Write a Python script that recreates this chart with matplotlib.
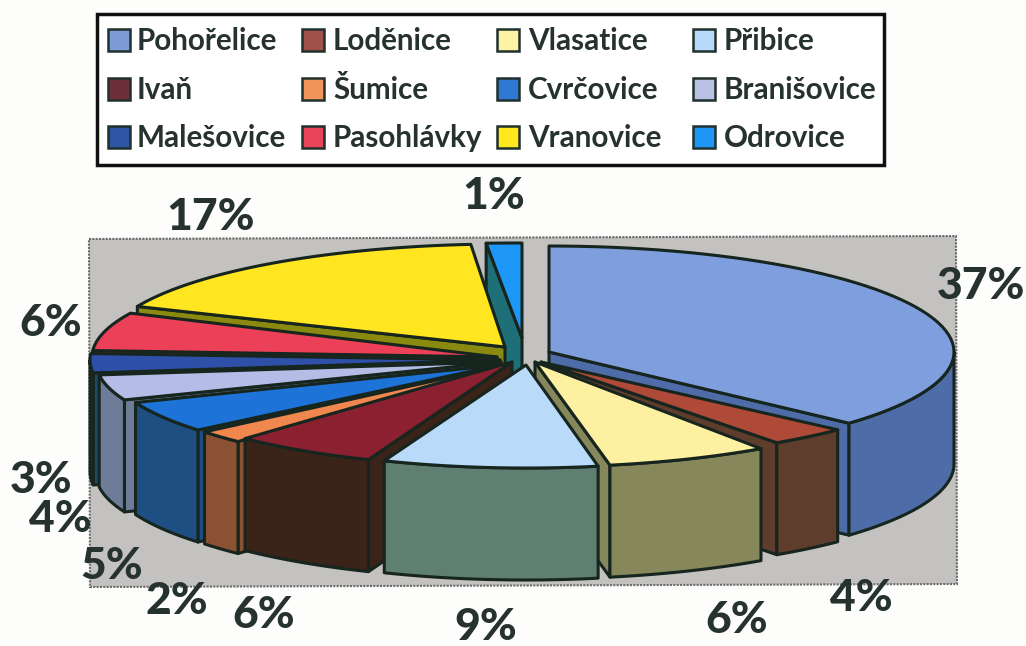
import matplotlib.pyplot as plt
import numpy as np
from matplotlib.patches import Polygon, Rectangle

# Hodnoty z grafu
obce = ["Pohořelice", "Loděnice", "Vlasatice", "Přibice",
        "Ivaň", "Šumice", "Cvrčovice", "Branišovice",
        "Malešovice", "Pasohlávky", "Vranovice", "Odrovice"]
podil = [37, 4, 6, 9, 6, 2, 5, 4, 3, 6, 17, 1]

# Barvy: horní plocha a bok výseče
barva_top = ["#7f9edd", "#b04a38", "#fdf0a0", "#b9daf8", "#8a2030", "#f0874e",
             "#1d73d8", "#b5bde6", "#2f50a8", "#ec4058", "#ffe620", "#1e98f8"]
barva_bok = ["#4e6da8", "#5e3d2c", "#86875a", "#5f7f72", "#3a2318", "#8a5233",
             "#1f4f82", "#6f7c97", "#1d4a66", "#8a2a3a", "#8a8a10", "#1f6f78"]
barva_leg = ["#7d9bd6", "#a0524a", "#fdf3a6", "#b8dafa", "#6e3038", "#f0955a",
             "#2f79d2", "#b8c0e4", "#2c55a5", "#e8445a", "#ffe81e", "#1e96f5"]

# Rozložení v pixelech: střed a poloosy každé výseče
stred_x = [549, 541, 535, 526, 512, 505, 500, 501, 500, 497, 505, 522]
stred_y = [352, 362, 362, 365, 362, 365, 365, 362, 360, 357, 347, 338]
osa_a = [405, 407, 400, 385, 390, 390, 392, 405, 410, 405, 400, 571]
osa_b = [106, 99, 105, 103, 105, 105, 102, 103, 103, 103, 103, 95]
# Oprava perspektivy: posun začátku a konce výseče ve stupních
oprava_zac = [0, 0, -2, 0, 0, 0, 0, 0, 0, 0, -2, 0]
oprava_kon = [-1, -3, 0, 0, 0, 0, 0, 0, 0, 0, -1.3, 0]
hloubka = 112
poradi = [11, 10, 0, 9, 8, 7, 6, 5, 4, 1, 2, 3]

# Popisky procent: střed textu v pixelech
pop_x = [981, 861, 737, 486, 264, 177, 112, 60, 41, 51, 211, 494]
pop_y = [286, 598, 620, 627, 615, 601, 566, 519, 480, 323, 217, 196]

tmava = "#17251f"
text_barva = "#26322f"

fig = plt.figure(figsize=(10.26, 6.46), dpi=100, facecolor="#fdfdfc")
ax = fig.add_axes([0, 0, 1, 1])
ax.set_xlim(0, 1026)
ax.set_ylim(646, 0)
ax.axis("off")

# Šedá plocha za grafem
ax.add_patch(Polygon([(89, 239), (956, 236), (957, 584), (90, 587)], closed=True,
                     facecolor="#c3c2c0", edgecolor="#6a6a6a", lw=1.5, ls=(0, (1, 0.6))))

# Úhly výsečí, po směru hodinových ručiček od vrcholu
kumul = np.cumsum([0] + podil) / sum(podil) * 360


def bod(i, uhel):
    t = np.radians(uhel)
    return stred_x[i] + osa_a[i] * np.sin(t), stred_y[i] - osa_b[i] * np.cos(t)


for i in poradi:
    u0, u1 = kumul[i] + oprava_zac[i], kumul[i + 1] + oprava_kon[i]
    cx, cy = stred_x[i], stred_y[i]
    uhly = np.linspace(u0, u1, 60)
    xs, ys = bod(i, uhly)

    # řezné stěny, jen ty otočené k divákovi
    steny = []
    if u0 > 180:
        steny.append((xs[0], ys[0]))
    if u1 < 180:
        steny.append((xs[-1], ys[-1]))
    for x, y in steny:
        stena = [(cx, cy), (x, y), (x, y + hloubka), (cx, cy + hloubka)]
        ax.add_patch(Polygon(stena, closed=True, facecolor=barva_bok[i],
                             edgecolor=tmava, lw=2.2, joinstyle="round"))

    # vnější plášť, jen přední polovina elipsy
    u_a, u_b = max(u0, 90), min(u1, 270)
    if u_a < u_b:
        px, py = bod(i, np.linspace(u_a, u_b, 60))
        plast = np.r_[np.c_[px, py], np.c_[px, py + hloubka][::-1]]
        ax.add_patch(Polygon(plast, closed=True, facecolor=barva_bok[i],
                             edgecolor=tmava, lw=2.2, joinstyle="round"))

    # horní plocha
    top = np.r_[[(cx, cy)], np.c_[xs, ys]]
    ax.add_patch(Polygon(top, closed=True, facecolor=barva_top[i],
                         edgecolor=tmava, lw=2.2, joinstyle="round"))

# Popisky procent
for h, x, y in zip(podil, pop_x, pop_y):
    ax.text(x, y, f"{h}%", ha="center", va="center", family="Lato",
            weight="black", fontsize=32, color=text_barva)

# Legenda
ax.add_patch(Rectangle((97, 14), 787, 151, facecolor="white", edgecolor="#111111", lw=2.5))
sloupce_sw = [108, 302, 497, 693]
sloupce_tx = [137, 333, 528, 724]
radky = [40, 89, 137]
for k, jm in enumerate(obce):
    r, s = k // 4, k % 4
    ax.add_patch(Rectangle((sloupce_sw[s], radky[r] - 11), 22, 22, facecolor=barva_leg[k],
                           edgecolor="#20302c", lw=1.8))
    ax.text(sloupce_tx[s], radky[r] + 1, jm, ha="left", va="center", family="Lato",
            weight="bold", fontsize=21.3, color=text_barva)

fig.savefig("out.png", dpi=100, facecolor=fig.get_facecolor())
